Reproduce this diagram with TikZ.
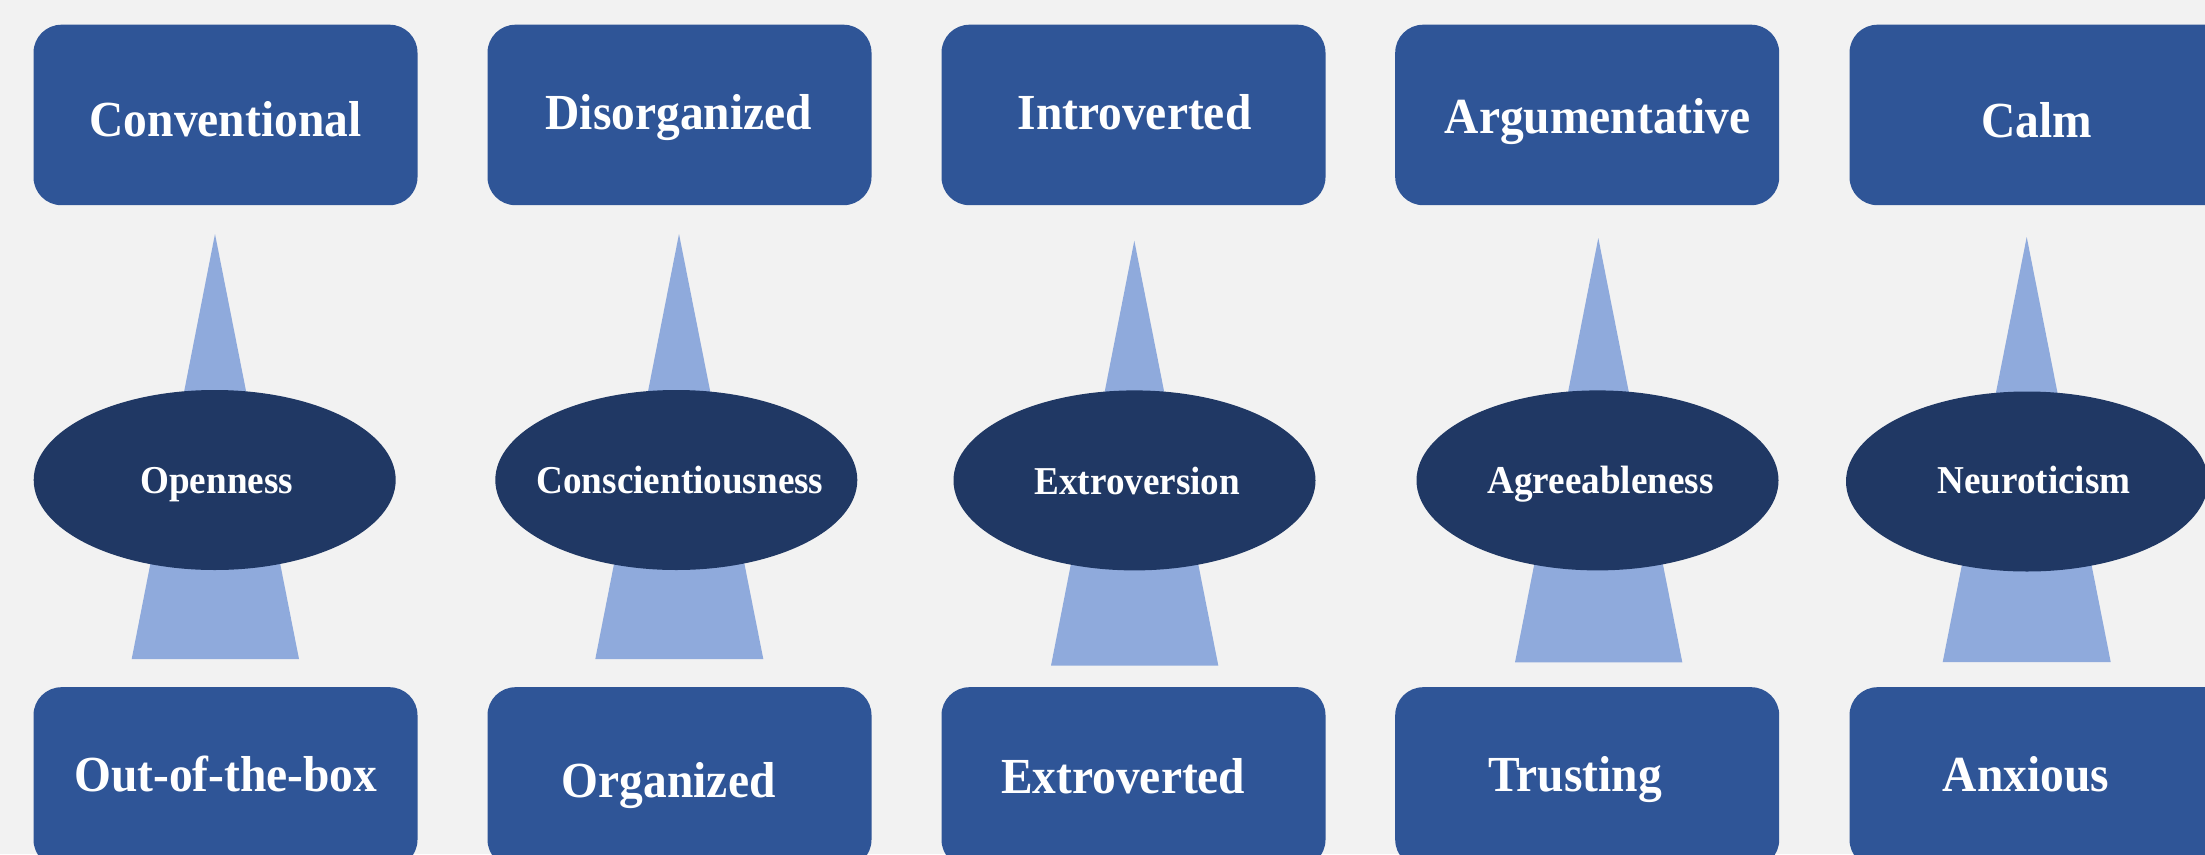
\documentclass[tikz,border=0pt]{standalone}
\usepackage{fontspec}
\usetikzlibrary{shapes.geometric}
\newfontfamily\traitfont{Liberation Serif}[FakeStretch=0.94]
\definecolor{pagebg}{HTML}{F2F2F2}
\definecolor{poleblue}{HTML}{2F5597}
\definecolor{traitnavy}{HTML}{203864}
\definecolor{spineblue}{HTML}{8FAADC}

\begin{document}
\begin{tikzpicture}[x=1pt,y=-1pt,
  polebox/.style={draw=none, fill=poleblue, rounded corners=28pt,
    minimum width=384pt, minimum height=180.5pt, inner sep=0pt, anchor=north west},
  traitoval/.style={ellipse, draw=none, fill=traitnavy,
    minimum width=362pt, minimum height=180pt, inner sep=0pt},
  spine/.style={fill=spineblue},
  poletext/.style={anchor=base, inner sep=0pt, text=white,
    font=\traitfont\bfseries\fontsize{50.5}{60}\selectfont},
  traittext/.style={anchor=base, inner sep=0pt, text=white,
    font=\traitfont\bfseries\fontsize{39.5}{47}\selectfont}]

% canvas
\useasboundingbox (0,0) rectangle (2205,854);
\fill[pagebg] (0,0) rectangle (2205,854);
\clip (0,0) rectangle (2205,854);

% tapered spines behind each trait
\fill[spine] (215,234)    -- (299,659)    -- (131.7,659)  -- cycle;
\fill[spine] (679,234)    -- (763.3,659)  -- (595.3,659)  -- cycle;
\fill[spine] (1134.3,240.7) -- (1218.3,665.6) -- (1051,665.6) -- cycle;
\fill[spine] (1598.3,238) -- (1682.3,662.3) -- (1515,662.3) -- cycle;
\fill[spine] (2026.7,237) -- (2110.7,662)  -- (1942.7,662)  -- cycle;

% trait ellipses
\node[traitoval] (o1) at (214.7,480) {};
\node[traitoval] (o2) at (676.3,480) {};
\node[traitoval] (o3) at (1134.5,480.4) {};
\node[traitoval] (o4) at (1597.5,480.4) {};
\node[traitoval] (o5) at (2027,481.5) {};

% upper pole boxes
\node[polebox] (u1) at (33.3,24.5) {};
\node[polebox] (u2) at (487.3,24.5) {};
\node[polebox] (u3) at (941.3,24.5) {};
\node[polebox] (u4) at (1395,24.5) {};
\node[polebox] (u5) at (1849.3,24.5) {};

% lower pole boxes
\node[polebox] (d1) at (33.3,687) {};
\node[polebox] (d2) at (487.3,687) {};
\node[polebox] (d3) at (941.3,687) {};
\node[polebox] (d4) at (1395,687) {};
\node[polebox] (d5) at (1849.3,687) {};

% upper pole labels
\node[poletext] (u1t) at (225.5,136)   {Conventional};
\node[poletext] (u2t) at (678.7,129)   {Disorganized};
\node[poletext] (u3t) at (1134.5,129)  {Introverted};
\node[poletext] (u4t) at (1597.8,133.4) {Argumentative};
\node[poletext] (u5t) at (2037,137)    {Calm};

% trait labels
\node[traittext] (o1t) at (216.7,493)   {Openness};
\node[traittext] (o2t) at (680,493)     {Conscientiousness};
\node[traittext] (o3t) at (1137.3,494.5) {Extroversion};
\node[traittext] (o4t) at (1600.7,493)  {Agreeableness};
\node[traittext] (o5t) at (2034,493)    {Neuroticism};

% lower pole labels
\node[poletext] (d1t) at (225.8,791)   {Out-of-the-box};
\node[poletext] (d2t) at (668.7,797)   {Organized};
\node[poletext] (d3t) at (1123.2,793.6) {Extroverted};
\node[poletext] (d4t) at (1575.3,791)  {Trusting};
\node[poletext] (d5t) at (2026,791)    {Anxious};
\end{tikzpicture}
\end{document}
